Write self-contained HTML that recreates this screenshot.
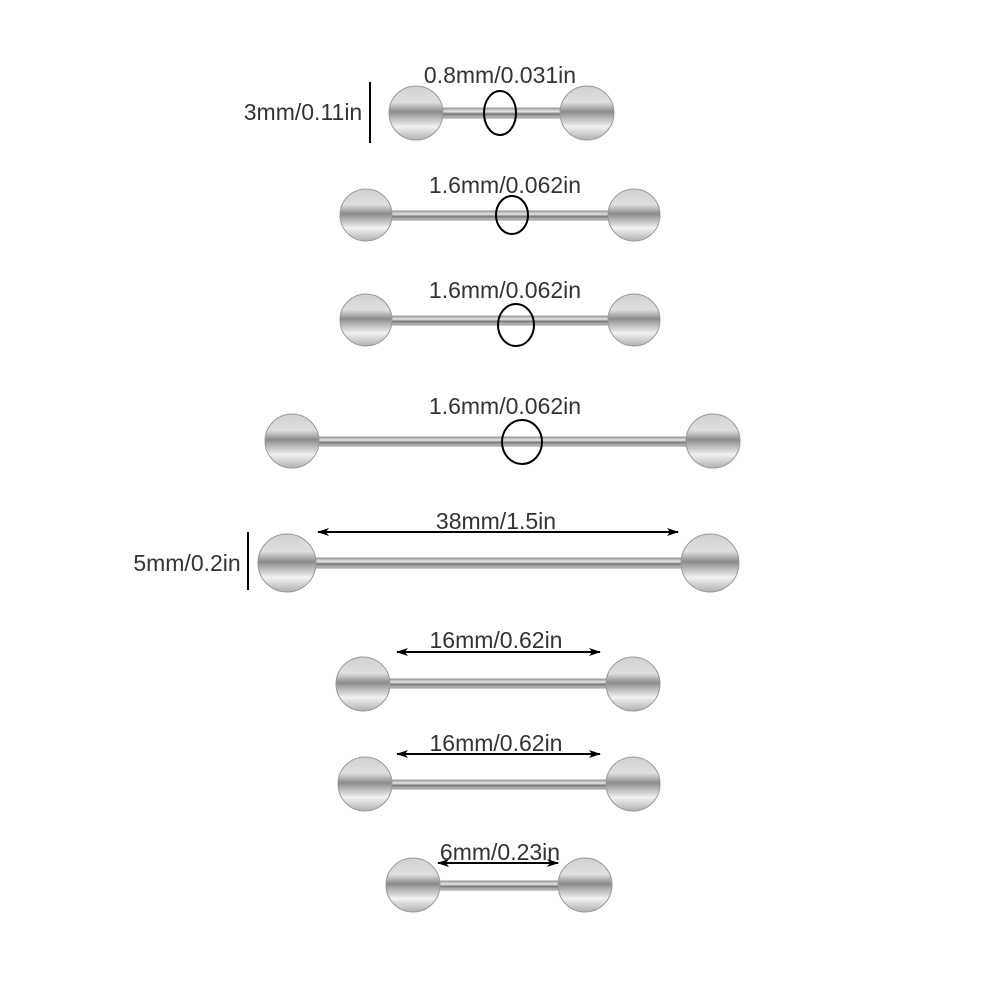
<!DOCTYPE html>
<html><head><meta charset="utf-8"><style>
html,body{margin:0;padding:0;background:#fff;}
svg{display:block}
text{font-family:"Liberation Sans",sans-serif;font-size:23px;fill:#333;text-anchor:middle}
</style></head><body>
<svg width="1000" height="1000" viewBox="0 0 1000 1000" xmlns="http://www.w3.org/2000/svg">
<defs>
<linearGradient id="ball" x1="0" y1="0" x2="0" y2="1">
<stop offset="0" stop-color="#d0d0d0"/>
<stop offset="0.3" stop-color="#e0e0e0"/>
<stop offset="0.48" stop-color="#8a8a8a"/>
<stop offset="0.53" stop-color="#a0a0a0"/>
<stop offset="0.75" stop-color="#f2f2f2"/>
<stop offset="1" stop-color="#b0b0b0"/>
</linearGradient>
<linearGradient id="bar" x1="0" y1="0" x2="0" y2="1">
<stop offset="0" stop-color="#9a9a9a"/>
<stop offset="0.35" stop-color="#e8e8e8"/>
<stop offset="0.6" stop-color="#777"/>
<stop offset="1" stop-color="#cfcfcf"/>
</linearGradient>
<marker id="ah" markerWidth="12" markerHeight="8" refX="11" refY="4" orient="auto-start-reverse" markerUnits="userSpaceOnUse">
<path d="M0,0 L12,4 L0,8 L3,4 Z" fill="#000"/>
</marker>
</defs>
<g stroke="#999" stroke-width="1">
<rect x="430" y="108" width="145" height="10" fill="url(#bar)"/>
<circle cx="416" cy="113" r="27" fill="url(#ball)"/>
<circle cx="587" cy="113" r="27" fill="url(#ball)"/>
<rect x="380" y="211" width="240" height="9" fill="url(#bar)"/>
<circle cx="366" cy="215" r="26" fill="url(#ball)"/>
<circle cx="634" cy="215" r="26" fill="url(#ball)"/>
<rect x="380" y="316" width="240" height="9" fill="url(#bar)"/>
<circle cx="366" cy="320" r="26" fill="url(#ball)"/>
<circle cx="634" cy="320" r="26" fill="url(#ball)"/>
<rect x="305" y="437" width="395" height="9" fill="url(#bar)"/>
<circle cx="292" cy="441" r="27" fill="url(#ball)"/>
<circle cx="713" cy="441" r="27" fill="url(#ball)"/>
<rect x="300" y="558" width="395" height="10" fill="url(#bar)"/>
<circle cx="287" cy="563" r="29" fill="url(#ball)"/>
<circle cx="710" cy="563" r="29" fill="url(#ball)"/>
<rect x="380" y="679" width="240" height="9" fill="url(#bar)"/>
<circle cx="363" cy="684" r="27" fill="url(#ball)"/>
<circle cx="633" cy="684" r="27" fill="url(#ball)"/>
<rect x="380" y="780" width="240" height="9" fill="url(#bar)"/>
<circle cx="365" cy="784" r="27" fill="url(#ball)"/>
<circle cx="633" cy="784" r="27" fill="url(#ball)"/>
<rect x="430" y="881" width="145" height="9" fill="url(#bar)"/>
<circle cx="413" cy="885" r="27" fill="url(#ball)"/>
<circle cx="585" cy="885" r="27" fill="url(#ball)"/>
</g>
<g fill="none" stroke="#000" stroke-width="2">
<line x1="370" y1="82" x2="370" y2="143"/>
<ellipse cx="500" cy="113" rx="16" ry="22"/>
<ellipse cx="512" cy="215" rx="16" ry="19"/>
<ellipse cx="516" cy="325" rx="18" ry="21"/>
<ellipse cx="522" cy="442" rx="20" ry="22"/>
<line x1="248" y1="532" x2="248" y2="590"/>
<line x1="318" y1="532" x2="678" y2="532" marker-start="url(#ah)" marker-end="url(#ah)"/>
<line x1="397" y1="652" x2="600" y2="652" marker-start="url(#ah)" marker-end="url(#ah)"/>
<line x1="397" y1="754" x2="600" y2="754" marker-start="url(#ah)" marker-end="url(#ah)"/>
<line x1="438" y1="863" x2="558" y2="863" marker-start="url(#ah)" marker-end="url(#ah)"/>
</g>
<text x="500" y="83">0.8mm/0.031in</text>
<text x="303" y="120">3mm/0.11in</text>
<text x="505" y="193">1.6mm/0.062in</text>
<text x="505" y="298">1.6mm/0.062in</text>
<text x="505" y="414">1.6mm/0.062in</text>
<text x="496" y="529">38mm/1.5in</text>
<text x="187" y="571">5mm/0.2in</text>
<text x="496" y="648">16mm/0.62in</text>
<text x="496" y="751">16mm/0.62in</text>
<text x="500" y="860">6mm/0.23in</text>
</svg>
</body></html>
